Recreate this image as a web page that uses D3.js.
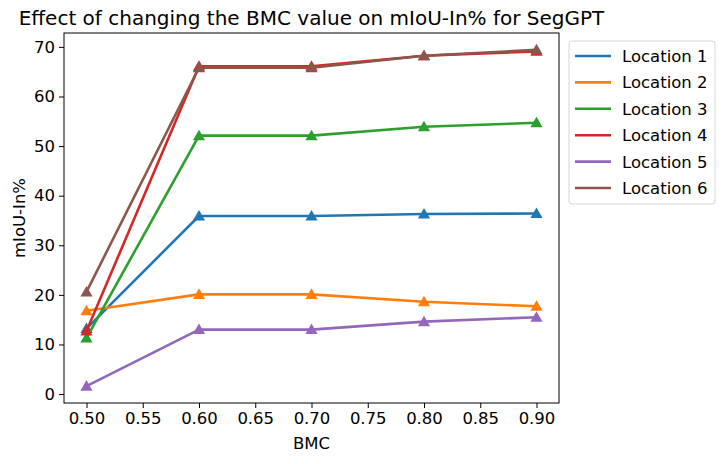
<!DOCTYPE html>
<html>
<head>
<meta charset="utf-8">
<script src="https://cdn.jsdelivr.net/npm/d3@7"></script>
<style>
  body { margin: 0; background: #fff; }
  text { font-family: "DejaVu Sans", sans-serif; fill: #000; }
</style>
</head>
<body>
<div id="chart"></div>
<script>
// Data
const bmcValues = [0.5, 0.6, 0.7, 0.8, 0.9];
const seriesNames = ["Location 1", "Location 2", "Location 3", "Location 4", "Location 5", "Location 6"];
const location1 = [13.2, 35.9, 35.9, 36.3, 36.4];
const location2 = [16.8, 20.1, 20.1, 18.6, 17.7];
const location3 = [11.3, 52.1, 52.1, 53.9, 54.7];
const location4 = [12.7, 66.1, 66.1, 68.2, 69.1];
const location5 = [1.6, 13.0, 13.0, 14.6, 15.5];
const location6 = [20.6, 65.8, 65.8, 68.2, 69.4];
const xTicks = [0.50, 0.55, 0.60, 0.65, 0.70, 0.75, 0.80, 0.85, 0.90];
const yTicks = [0, 10, 20, 30, 40, 50, 60, 70];
const colors = ["#1f77b4", "#ff7f0e", "#2ca02c", "#d62728", "#9467bd", "#8c564b"];

const allSeries = [location1, location2, location3, location4, location5, location6];

// Layout
const width = 724;
const height = 464;
const margin = { top: 33, right: 165, bottom: 61, left: 64 };
const plotW = width - margin.left - margin.right;
const plotH = height - margin.top - margin.bottom;
const fontSize = "16.5px";

const svg = d3.select("#chart").append("svg")
    .attr("width", width)
    .attr("height", height);

const g = svg.append("g")
    .attr("transform", `translate(${margin.left},${margin.top})`);

// Scales (matplotlib-like 5% padding)
const x = d3.scaleLinear().domain([0.48, 0.92]).range([0, plotW]);
const y = d3.scaleLinear().domain([-1.8, 72.8]).range([plotH, 0]);

// Axes
const xAxis = g.append("g")
    .attr("transform", `translate(0,${plotH})`)
    .call(d3.axisBottom(x).tickValues(xTicks).tickFormat(d3.format(".2f")).tickSizeOuter(0).tickSize(5).tickPadding(4));
const yAxis = g.append("g")
    .call(d3.axisLeft(y).tickValues(yTicks).tickFormat(d3.format("d")).tickSizeOuter(0).tickSize(5).tickPadding(4));

[xAxis, yAxis].forEach(a => {
    a.select(".domain").remove();
    a.selectAll("line").attr("stroke", "#000").attr("stroke-width", 1);
    a.selectAll("text").style("font-size", fontSize).style("font-family", "DejaVu Sans, sans-serif");
});

// Frame
g.append("rect")
    .attr("width", plotW)
    .attr("height", plotH)
    .attr("fill", "none")
    .attr("stroke", "#000")
    .attr("stroke-width", 1);

// Lines and markers
const line = d3.line()
    .x((d, i) => x(bmcValues[i]))
    .y(d => y(d));

const tri = d3.symbol().type(d3.symbolTriangle).size(64);

allSeries.forEach((vals, k) => {
    g.append("path")
        .datum(vals)
        .attr("d", line)
        .attr("fill", "none")
        .attr("stroke", colors[k])
        .attr("stroke-width", 2.6)
        .attr("stroke-linejoin", "round");

    g.selectAll(`.m${k}`)
        .data(vals)
        .enter()
        .append("path")
        .attr("class", `m${k}`)
        .attr("d", tri)
        .attr("transform", (d, i) => `translate(${x(bmcValues[i])},${y(d) + 1})`)
        .attr("fill", colors[k]);
});

// Title and labels
svg.append("text")
    .attr("x", margin.left + plotW / 2)
    .attr("y", 25)
    .attr("text-anchor", "middle")
    .style("font-size", "20px")
    .text("Effect of changing the BMC value on mIoU-In% for SegGPT");

svg.append("text")
    .attr("x", margin.left + plotW / 2)
    .attr("y", 449)
    .attr("text-anchor", "middle")
    .style("font-size", fontSize)
    .text("BMC");

svg.append("text")
    .attr("transform", "rotate(-90)")
    .attr("x", -(margin.top + plotH / 2))
    .attr("y", 25)
    .attr("text-anchor", "middle")
    .style("font-size", fontSize)
    .text("mIoU-In%");

// Legend
const legend = svg.append("g")
    .attr("transform", "translate(569,41)");

legend.append("rect")
    .attr("width", 146)
    .attr("height", 163)
    .attr("rx", 3)
    .attr("fill", "#fff")
    .attr("stroke", "#d6d6d6")
    .attr("stroke-width", 1);

seriesNames.forEach((name, k) => {
    const ly = 15 + k * 26.4;
    legend.append("line")
        .attr("x1", 6).attr("x2", 42)
        .attr("y1", ly).attr("y2", ly)
        .attr("stroke", colors[k])
        .attr("stroke-width", 2.6);
    legend.append("text")
        .attr("x", 53)
        .attr("y", ly + 6)
        .style("font-size", fontSize)
        .text(name);
});
</script>
</body>
</html>
